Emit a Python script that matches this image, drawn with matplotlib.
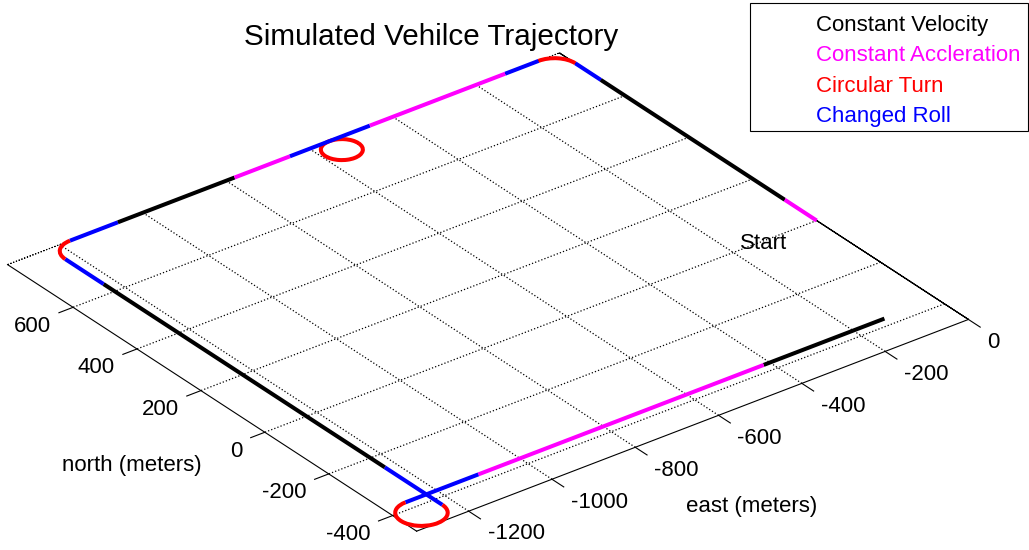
# Trayectoria simulada de un vehiculo, vista 3D ortogonal (estilo MATLAB view(3))
import matplotlib
matplotlib.use('Agg')
import matplotlib.pyplot as plt
import matplotlib.transforms as mtransforms
from matplotlib.patches import Arc
from matplotlib.lines import Line2D
import mpl_toolkits.mplot3d.art3d as art3d

# Datos (metros)
tipos = ['Constant Velocity', 'Constant Accleration', 'Circular Turn', 'Changed Roll']
color_de = {'cv': 'black', 'ca': 'magenta', 'ct': 'red', 'cr': 'blue'}

este_ticks = [-1200, -1000, -800, -600, -400, -200, 0]
norte_ticks = [-400, -200, 0, 200, 400, 600]

# tramo sur (norte constante), hacia el oeste
sur_norte = -375
sur_este = [-125, -415, -1100, -1275]
sur_tipo = ['cv', 'ca', 'cr']

# tramo oeste (este constante), hacia el norte
oeste_este = -1225
oeste_norte = [-425, -245, 635, 755]
oeste_tipo = ['cr', 'cv', 'cr']

# tramo norte (norte constante), hacia el este
norte_norte = 805
norte_este = [-1175, -1060, -780, -647, -455, -130, -50]
norte_tipo = ['cr', 'cv', 'ca', 'cr', 'ca', 'cr']

# tramo este (este constante), hacia el sur
este_este = 0
este_norte = [755, 675, 100, 0]
este_tipo = ['cr', 'cv', 'ca']

# giros circulares: centro (este, norte), radio, angulos inicial y final
giro_este = [-1275, -1175, -553, -50]
giro_norte = [-425, 755, 765, 755]
giro_radio = [50, 50, 40, 50]
giro_ang0 = [90, 90, 0, 0]
giro_ang1 = [360, 180, 360, 90]

inicio_este, inicio_norte = -168, 20

plt.rcParams['font.family'] = ['Liberation Sans', 'DejaVu Sans']
plt.rcParams['font.size'] = 16
plt.rcParams['axes.unicode_minus'] = False
plt.rcParams['grid.color'] = 'black'
plt.rcParams['grid.linestyle'] = ':'
plt.rcParams['grid.linewidth'] = 0.9
plt.rcParams['axes.linewidth'] = 0.8

fig = plt.figure(figsize=(10.29, 5.5), dpi=100)
ax = fig.add_axes([-0.0747, -0.558, 1.069, 2.0], projection='3d', proj_type='ortho')
ax.computed_zorder = False
ax.view_init(elev=30, azim=-127.5)
ax.set_xlim(-1325, 0)
ax.set_ylim(-475, 805)
ax.set_zlim(-1, 1)
ax.set_box_aspect((1325, 1280, 0.01), zoom=0.8535)

# paneles transparentes; el borde este=0 queda solido, el borde norte punteado
for eje in (ax.xaxis, ax.yaxis, ax.zaxis):
    eje.set_pane_color((1, 1, 1, 0))
    eje.pane.set_alpha(None)
    eje.pane.set_facecolor((1, 1, 1, 0))
    eje.pane.set_edgecolor((1, 1, 1, 0))
    eje.pane.set_linewidth(0.8)
    eje.get_offset_text().set_visible(False)
ax.xaxis.pane.set_edgecolor('black')
ax.yaxis.pane.set_edgecolor('black')
ax.yaxis.pane.set_linestyle(':')
ax.zaxis.line.set_visible(False)
ax.zaxis.label.set_visible(False)
# titulos vacios del eje (quedan fuera del lienzo)
for t in (ax.title, ax._left_title, ax._right_title):
    t.set_visible(False)

ax.set_xticks(este_ticks, [str(v) for v in este_ticks], ha='left', va='top')
ax.set_yticks(norte_ticks, [str(v) for v in norte_ticks], ha='right', va='top')
ax.set_zticks([])
ax.xaxis.set_ticks_position('lower')
ax.yaxis.set_ticks_position('lower')
ax.xaxis._axinfo['tick'].update(inward_factor=0.36, outward_factor=0)
ax.yaxis._axinfo['tick'].update(inward_factor=0.32, outward_factor=0)
ax.tick_params(axis='x', pad=11)
ax.tick_params(axis='y', pad=8.5)

ax.set_xlabel('east (meters)', labelpad=104.7)
ax.set_ylabel('north (meters)', labelpad=91)
ax.xaxis.set_rotate_label(False)
ax.yaxis.set_rotate_label(False)
ax.xaxis._axinfo['label'].update(ha='right', va='center')
ax.yaxis._axinfo['label'].update(ha='left', va='top')

ancho = 2.9


def tramo(estes, nortes, tipos_tramo):
    # dibuja cada parte recta de un tramo con el color de su maniobra
    for i, t in enumerate(tipos_tramo):
        ax.plot(estes[i:i + 2], nortes[i:i + 2], [0, 0], color=color_de[t],
                lw=ancho, solid_capstyle='butt', zorder=3)


def giro(i):
    arco = Arc((giro_este[i], giro_norte[i]), 2 * giro_radio[i], 2 * giro_radio[i],
               theta1=giro_ang0[i], theta2=giro_ang1[i], color='red', lw=ancho, zorder=3)
    ax.add_patch(arco)
    art3d.pathpatch_2d_to_3d(arco, z=0, zdir='z')


tramo(sur_este, [sur_norte] * len(sur_este), sur_tipo)
giro(0)
tramo([oeste_este] * len(oeste_norte), oeste_norte, oeste_tipo)
giro(1)
giro(2)
tramo(norte_este, [norte_norte] * len(norte_este), norte_tipo)
giro(3)
tramo([este_este] * len(este_norte), este_norte, este_tipo)

ax.text(inicio_este, inicio_norte, 0, 'Start', ha='left', va='center', fontsize=16)

manejadores = [Line2D([], [], color='none') for _ in tipos]
leyenda = fig.legend(manejadores, tipos, loc='upper right',
                     bbox_to_anchor=(1028 / 1029, 547 / 550),
                     labelcolor=['black', 'magenta', 'red', 'blue'],
                     fancybox=False, edgecolor='black', framealpha=1,
                     borderaxespad=0, handlelength=2.2, handletextpad=0.4,
                     borderpad=0.36, labelspacing=0.42, fontsize=16)
leyenda.get_frame().set_linewidth(0.8)
# bajar un poco los textos dentro del recuadro, como en el original
bajada = mtransforms.ScaledTranslation(0, -4 / 100, fig.dpi_scale_trans)
for texto in leyenda.get_texts():
    texto.set_transform(texto.get_transform() + bajada)

fig.suptitle('Simulated Vehilce Trajectory', x=431 / 1029, y=1 - 37 / 550,
             va='center', fontsize=21.3)

fig.savefig('out.png', dpi=100)
